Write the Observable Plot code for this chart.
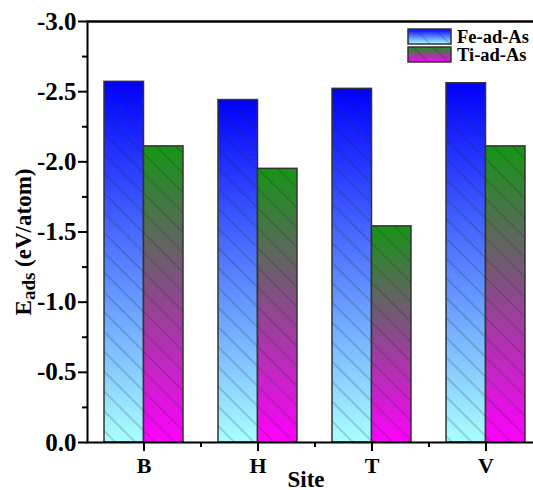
<!DOCTYPE html>
<html><head><meta charset="utf-8">
<script src="https://cdn.jsdelivr.net/npm/d3@7"></script>
<script src="https://cdn.jsdelivr.net/npm/@observablehq/plot@0.6"></script>
<style>body{margin:0;background:#fff}</style>
</head><body><div id="chart"></div>
<script>
const sites = ["B", "H", "T", "V"];
const feValues = [-2.57, -2.44, -2.52, -2.56];
const tiValues = [-2.11, -1.95, -1.54, -2.11];
const seriesNames = ["Fe-ad-As", "Ti-ad-As"];
const yTicks = [0, -0.5, -1, -1.5, -2, -2.5, -3];
const yMinorTicks = [-0.25, -0.75, -1.25, -1.75, -2.25, -2.75];
const xTitle = "Site";

const fe = sites.map((s, i) => ({site: s, value: feValues[i]}));
const ti = sites.map((s, i) => ({site: s, value: tiValues[i]}));

const W = 533, H = 490, mL = 87, mT = 21, mB = 48;
const xEnd = 543;
const pInner = 0.307, pOuter = pInner / 2;
const step = (xEnd - mL) / sites.length;
const bw = step * (1 - pInner);
const innerH = H - mT - mB;
const FONT = "'Liberation Serif','Times New Roman',serif";

const plot = Plot.plot({
  width: W, height: H,
  marginLeft: mL, marginRight: 0, marginTop: mT, marginBottom: mB,
  style: {fontFamily: FONT, fontSize: "22px", fontWeight: "bold", color: "black", background: "white"},
  x: {domain: sites, range: [mL, xEnd], paddingInner: pInner, paddingOuter: pOuter, label: null},
  y: {domain: [0, -3], label: null},
  marks: [
    Plot.barY(fe, {x: "site", y: "value", insetRight: bw / 2, fill: "url(#gFe)"}),
    Plot.barY(fe, {x: "site", y: "value", insetRight: bw / 2, fill: "url(#hatch)", stroke: "#333", strokeWidth: 1.5}),
    Plot.barY(ti, {x: "site", y: "value", insetLeft: bw / 2, fill: "url(#gTi)"}),
    Plot.barY(ti, {x: "site", y: "value", insetLeft: bw / 2, fill: "url(#hatch)", stroke: "#333", strokeWidth: 1.5}),
    Plot.axisY(yTicks, {tickSize: 9, tickPadding: 2, tickFormat: d => d.toFixed(1), fontSize: 25, strokeWidth: 2, label: null}),
    Plot.axisY(yMinorTicks, {tickSize: 5, tickFormat: () => "", strokeWidth: 2, label: null}),
    Plot.axisX(sites, {tickSize: 9, tickPadding: 6, fontSize: 22, strokeWidth: 2, label: null}),
    Plot.tickX(sites.slice(0, sites.length - 1), {x: d => d, dx: step / 2, insetTop: innerH, insetBottom: -5, strokeWidth: 2}),
    Plot.ruleY([0], {strokeWidth: 2}),
    Plot.ruleY([-3], {strokeWidth: 2.5}),
    Plot.frame({anchor: "left", strokeWidth: 2})
  ]
});

const svg = d3.select(plot);
const defs = svg.insert("defs", ":first-child");
function grad(id, c0, c1) {
  const g = defs.append("linearGradient").attr("id", id).attr("x1", 0).attr("y1", 0).attr("x2", 0).attr("y2", 1);
  g.append("stop").attr("offset", 0).attr("stop-color", c0);
  g.append("stop").attr("offset", 1).attr("stop-color", c1);
}
grad("gFe", "#0000ff", "#aaffff");
grad("gTi", "#159615", "#ff00ff");
const pat = defs.append("pattern").attr("id", "hatch").attr("patternUnits", "userSpaceOnUse")
  .attr("width", 14).attr("height", 14).attr("patternTransform", "rotate(45)");
pat.append("line").attr("x1", 0).attr("y1", 7).attr("x2", 14).attr("y2", 7)
  .attr("stroke", "#222").attr("stroke-opacity", 0.45).attr("stroke-width", 0.8);

// legend
const lg = svg.append("g").attr("font-family", FONT).attr("font-weight", "bold").attr("font-size", 18.5).attr("text-anchor", "start");
seriesNames.forEach((name, i) => {
  const y = 29 + i * 18;
  lg.append("rect").attr("x", 408).attr("y", y).attr("width", 43).attr("height", 15).attr("fill", i ? "url(#gTi)" : "url(#gFe)");
  lg.append("rect").attr("x", 408).attr("y", y).attr("width", 43).attr("height", 15).attr("fill", "url(#hatch)").attr("stroke", "#333").attr("stroke-width", 1.5);
  lg.append("text").attr("x", 457).attr("y", y + 13.5).attr("text-anchor", "start").text(name);
});

// axis titles
svg.append("text").attr("x", 306).attr("y", 487).attr("text-anchor", "middle")
  .attr("font-family", FONT).attr("font-weight", "bold").attr("font-size", 23).text(xTitle);
const yt = svg.append("text").attr("transform", "translate(31,242) rotate(-90)").attr("text-anchor", "middle")
  .attr("font-family", FONT).attr("font-weight", "bold").attr("font-size", 23);
yt.append("tspan").text("E");
yt.append("tspan").attr("dy", 4).attr("font-size", 19).text("ads");
yt.append("tspan").attr("dy", -4).text(" (eV/atom)");

document.getElementById("chart").appendChild(plot);
</script></body></html>
